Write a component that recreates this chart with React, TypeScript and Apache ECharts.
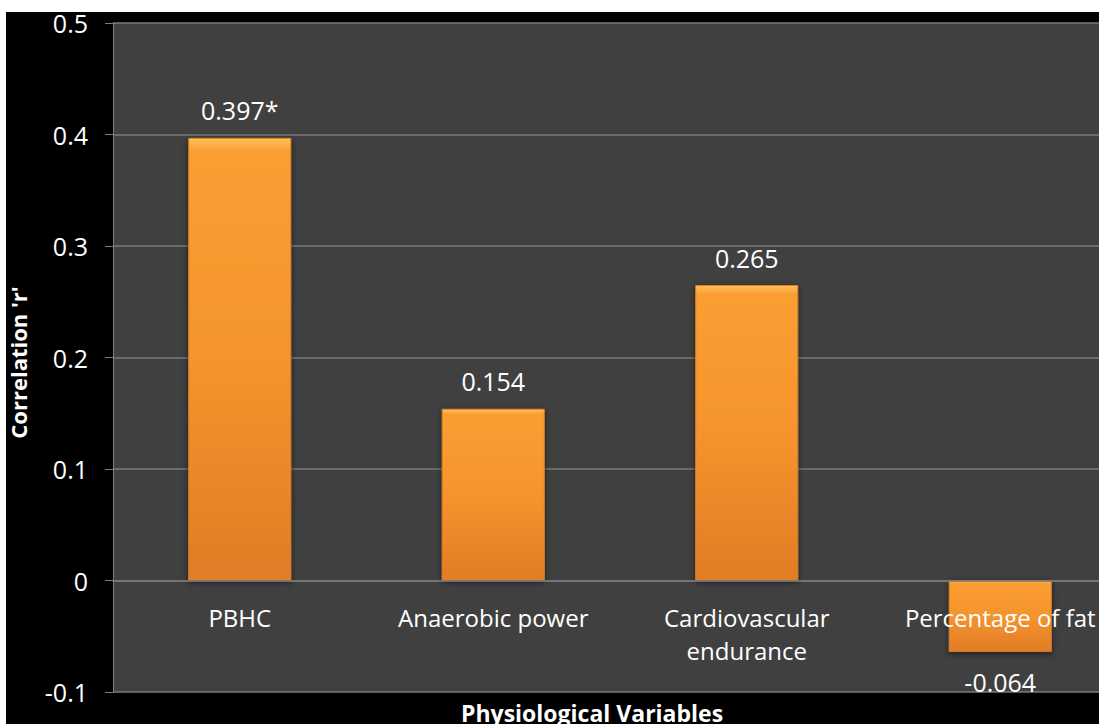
import React, { useEffect, useRef } from "react";
import * as echarts from "echarts";

const categories = ["PBHC", "Anaerobic power", "Cardiovascular\nendurance", "Percentage of fat"];
const values = [0.397, 0.154, 0.265, -0.064];
const valueLabels = ["0.397*", "0.154", "0.265", "-0.064"];
const yTicks = { min: -0.1, max: 0.5, interval: 0.1 };

const FONT = "Open Sans";
const GRID_H = 669;

export default function App() {
  const ref = useRef<HTMLDivElement>(null);
  useEffect(() => {
    if (!ref.current) return;
    const chart = echarts.init(ref.current, undefined, { renderer: "svg" });
    const barGrad = new echarts.graphic.LinearGradient(0, 0, 0, 1, [
      { offset: 0, color: "#FFC05A" },
      { offset: 0.03, color: "#FB9E32" },
      { offset: 0.5, color: "#F5942D" },
      { offset: 1, color: "#E27B26" },
    ]);
    // place the category axis on the zero line of the value axis
    const zeroOffset = -((0 - yTicks.min) / (yTicks.max - yTicks.min)) * GRID_H;
    chart.setOption({
      animation: false,
      backgroundColor: "#000000",
      textStyle: { fontFamily: FONT },
      grid: {
        left: 107,
        top: 11,
        width: 1014,
        height: GRID_H,
        show: true,
        backgroundColor: "#404040",
        borderWidth: 0,
        containLabel: false,
        outerBoundsMode: "none",
      },
      xAxis: {
        type: "category",
        data: categories,
        offset: zeroOffset,
        z: 5,
        axisLine: { show: true, onZero: false, lineStyle: { color: "#7a7a7a", width: 1.5 } },
        axisTick: { show: false },
        axisLabel: { color: "#ffffff", fontSize: 24, fontFamily: FONT, margin: 20, lineHeight: 33, interval: 0, hideOverlap: false },
      },
      yAxis: {
        type: "value",
        min: yTicks.min,
        max: yTicks.max,
        interval: yTicks.interval,
        name: "Correlation 'r'",
        nameLocation: "middle",
        nameGap: 84,
        nameTextStyle: { color: "#ffffff", fontSize: 22, fontWeight: "bold", fontFamily: FONT, padding: [0, 10, 0, 0] },
        axisLine: { show: true, onZero: false, lineStyle: { color: "#808080", width: 1 } },
        axisTick: { show: true, length: 8, lineStyle: { color: "#808080" } },
        splitLine: { show: true, lineStyle: { color: "#7a7a7a", width: 1.5 } },
        axisLabel: {
          color: "#ffffff",
          fontSize: 25,
          fontFamily: FONT,
          margin: 25,
          formatter: (v: number) => {
            const r = Math.round(v * 10) / 10;
            return r === 0 ? "0" : String(r);
          },
        },
      },
      graphic: [
        {
          type: "text",
          left: 455,
          top: 689,
          style: { text: "Physiological Variables", fill: "#ffffff", fontSize: 23, fontWeight: "bold", fontFamily: FONT },
        },
      ],
      series: [
        {
          type: "bar",
          z: 2,
          barWidth: 103,
          data: values.map((v, i) => ({
            value: v,
            label: {
              show: true,
              position: v < 0 ? "bottom" : "top",
              distance: v < 0 ? 18 : 15,
              formatter: valueLabels[i],
              color: "#ffffff",
              fontSize: 25,
              fontFamily: FONT,
            },
          })),
          itemStyle: {
            color: barGrad,
            borderColor: "#E08226",
            borderWidth: 1,
            shadowColor: "rgba(0,0,0,0.55)",
            shadowBlur: 6,
            shadowOffsetY: 2,
          },
        },
      ],
    });
    return () => chart.dispose();
  }, []);
  return (
    <div style={{ position: "absolute", left: 0, top: 0, width: 1099, height: 724, background: "#ffffff", overflow: "hidden" }}>
      <div ref={ref} style={{ position: "absolute", left: 6, top: 12, width: 1093, height: 712 }} />
    </div>
  );
}
